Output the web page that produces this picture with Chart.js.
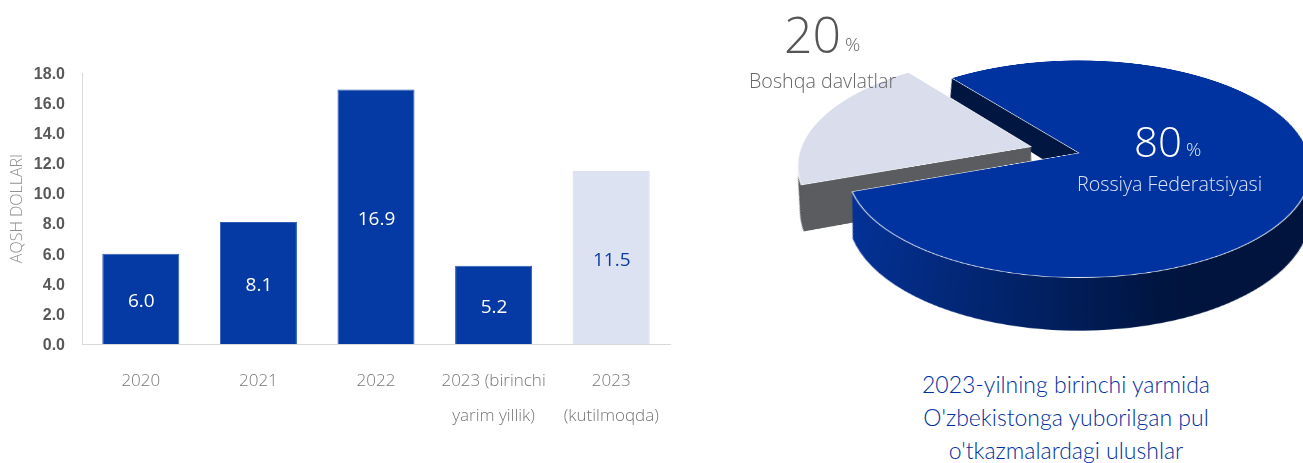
<!DOCTYPE html>
<html>
<head>
<meta charset="utf-8">
<script src="https://cdn.jsdelivr.net/npm/chart.js@4/dist/chart.umd.min.js"></script>
<style>
html,body{margin:0;padding:0;background:#fff;width:1303px;height:463px;overflow:hidden}
#stage{position:relative;width:1303px;height:463px;overflow:hidden}
#bar{position:absolute;left:0;top:0}
#pie{position:absolute;left:749px;top:-177px;transform-origin:50% 50%;transform:perspective(1388px) rotateX(62.4deg)}
.t{position:absolute;white-space:nowrap;font-family:"Open Sans",sans-serif;font-weight:300;line-height:1}
#title{position:absolute;left:866px;width:400px;top:368px;text-align:center;font-family:Lato,sans-serif;font-weight:300;font-size:23px;line-height:33px;color:#00309f}
</style>
</head>
<body>
<div id="stage">
<canvas id="bar" width="690" height="463"></canvas>
<canvas id="pie" width="660" height="660"></canvas>
<div class="t" id="p20" style="left:784px;top:9px;font-size:50px;color:#555">20</div>
<div class="t" id="p20s" style="left:845px;top:35px;font-size:19px;color:#666">%</div>
<div class="t" id="l20" style="left:749px;top:71px;font-size:19.7px;color:#666"></div>
<div class="t" id="p80" style="left:1134px;top:120px;font-size:42px;color:#fff">80</div>
<div class="t" id="p80s" style="left:1186px;top:140px;font-size:19px;color:#e4e9f6">%</div>
<div class="t" id="l80" style="left:1077px;top:174px;font-size:19.7px;color:#dce3f3"></div>
<div id="title"></div>
</div>
<script>
const categories = [["2020"],["2021"],["2022"],["2023 (birinchi","yarim yillik)"],["2023","(kutilmoqda)"]];
const values = [6.0,8.1,16.9,5.2,11.5];
const barColors = ["#0539a3","#0539a3","#0539a3","#0539a3","#dde2f3"];
const labelColors = ["#ffffff","#ffffff","#ffffff","#ffffff","#0b3aa6"];
const yAxisTitle = "AQSH DOLLARI";
const shareLabels = ["Rossiya Federatsiyasi","Boshqa davlatlar"];
const shareValues = [80,20];
const shareColors = ["#0033a0","#d9ddec"];
const titleLines = ["2023-yilning birinchi yarmida","O'zbekistonga yuborilgan pul","o'tkazmalardagi ulushlar"];

document.getElementById('l80').textContent = shareLabels[0];
document.getElementById('l20').textContent = shareLabels[1];
document.getElementById('p80').textContent = shareValues[0];
document.getElementById('p20').textContent = shareValues[1];
document.getElementById('title').innerHTML = titleLines.join('<br>');

const barLabels = {
  id:'barLabels',
  afterDatasetsDraw(chart){
    const ctx = chart.ctx, meta = chart.getDatasetMeta(0);
    ctx.save();
    ctx.font = '400 19px "Open Sans"';
    ctx.textAlign='center'; ctx.textBaseline='middle';
    meta.data.forEach((b,i)=>{
      ctx.fillStyle = labelColors[i];
      ctx.fillText(values[i].toFixed(1), b.x+0.5, (b.y+b.base)/2+3);
    });
    ctx.restore();
  }
};

new Chart(document.getElementById('bar'),{
  type:'bar',
  data:{labels:categories,datasets:[{data:values,backgroundColor:barColors,borderColor:["#2f5cb5","#2f5cb5","#2f5cb5","#2f5cb5","#d6d9e6"],borderWidth:1,categoryPercentage:1,barPercentage:0.655}]},
  plugins:[barLabels],
  options:{
    responsive:false,animation:false,
    layout:{padding:{top:73,right:20,bottom:0,left:0}},
    plugins:{legend:{display:false},tooltip:{enabled:false}},
    scales:{
      x:{
        grid:{display:false,drawTicks:false},
        border:{color:'#d9d9d9',width:1},
        ticks:{color:'#777777',font:{family:'"Open Sans"',size:17,weight:'300',lineHeight:2.06},padding:20,maxRotation:0,autoSkip:false},
        afterFit(s){s.height=119;}
      },
      y:{
        min:0,max:18,
        grid:{display:false,drawTicks:false},
        border:{color:'#d9d9d9',width:1},
        ticks:{stepSize:2,padding:17,labelOffset:1.5,color:'#595959',font:{family:'"Liberation Sans"',size:16,weight:'bold'},callback:v=>Number(v).toFixed(1)},
        title:{display:true,text:yAxisTitle,color:'#8f8f8f',font:{family:'"Open Sans"',size:16,weight:'300'},padding:{top:8,bottom:0}},
        afterFit(s){s.width=82;}
      }
    }
  }
});

const extrude = {
  id:'extrude',
  beforeDatasetsDraw(chart){
    const ctx = chart.ctx, arcs = chart.getDatasetMeta(0).data;
    const main = arcs[0], side = arcs[1];
    const cx = main.x, cy = main.y;
    const grad = ctx.createLinearGradient(100,0,660,0);
    grad.addColorStop(0,'#04339a');
    grad.addColorStop(0.27,'#03256f');
    grad.addColorStop(0.55,'#00153f');
    grad.addColorStop(1,'#00143c');
    const stack = (arc,fill,depth,kx,ky)=>{
      const o = arc.options;
      arc.options = Object.assign(Object.create(o),{backgroundColor:fill,borderColor:fill,borderWidth:0});
      for(let s=1;s<=depth;s++){
        const t=s/depth;
        ctx.save();
        ctx.translate(cx,cy+depth*t);
        ctx.scale(1-kx*t,1+ky*t);
        ctx.translate(-cx,-cy);
        arc.draw(ctx);
        ctx.restore();
      }
      arc.options = o;
    };
    const a = main.endAngle, dx = Math.cos(a), dy = Math.sin(a);
    const clipSide = (dir)=>{
      ctx.beginPath();
      ctx.moveTo(cx+dx*2000,cy+dy*2000);
      ctx.lineTo(cx-dx*2000,cy-dy*2000);
      ctx.lineTo(cx-dx*2000,cy+dir*3000);
      ctx.lineTo(cx+dx*2000,cy+dir*3000);
      ctx.closePath();
      ctx.clip();
    };
    // inner wall behind the notch
    ctx.save();
    clipSide(-1);
    stack(main,'#011640',60,0.02,0);
    ctx.restore();
    stack(side,'#5a5c60',90,0.066,-0.05);
    // front of the main slice sits before the grey wall
    ctx.save();
    clipSide(1);
    stack(main,grad,90,0.06,-0.05);
    ctx.restore();
  }
};

new Chart(document.getElementById('pie'),{
  type:'pie',
  data:{labels:shareLabels,datasets:[{data:shareValues,backgroundColor:shareColors,borderColor:'#ffffff',borderWidth:1,offset:[0,200]}]},
  plugins:[extrude],
  options:{
    responsive:false,animation:false,devicePixelRatio:2,
    rotation:-38.2,
    layout:{padding:0},
    plugins:{legend:{display:false},tooltip:{enabled:false}},
    events:[]
  }
});
</script>
</body>
</html>
